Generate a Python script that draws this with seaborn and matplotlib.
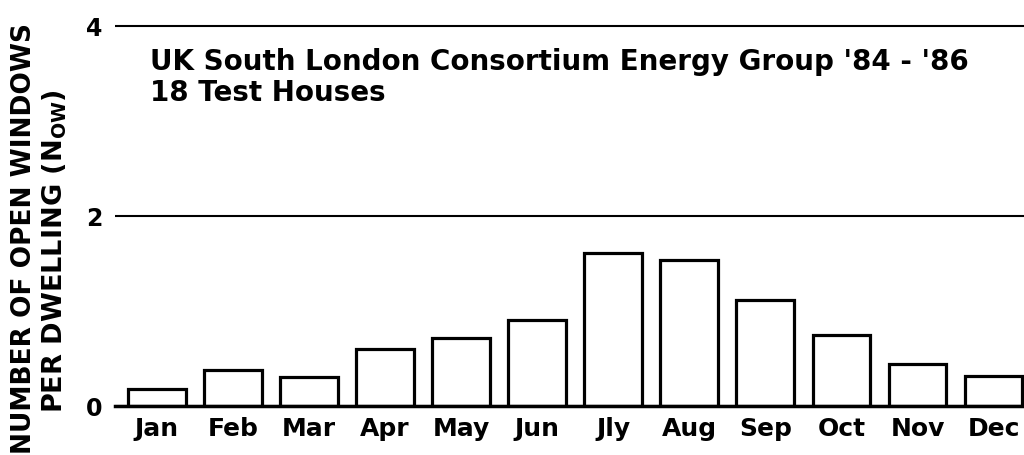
import matplotlib
matplotlib.use("Agg")
import matplotlib.pyplot as plt
import seaborn as sns
import pandas as pd

# monthly mean number of open windows per dwelling
months = ["Jan", "Feb", "Mar", "Apr", "May", "Jun",
          "Jly", "Aug", "Sep", "Oct", "Nov", "Dec"]
open_windows = [0.18, 0.38, 0.30, 0.60, 0.72, 0.90,
                1.61, 1.54, 1.12, 0.75, 0.44, 0.32]
y_ticks = [0, 2, 4]

title_lines = ["UK South London Consortium Energy Group '84 - '86",
               "18 Test Houses"]

sns.set_style("white")
plt.rcParams["font.family"] = ["DejaVu Sans"]
plt.rcParams["font.weight"] = "bold"
plt.rcParams["mathtext.default"] = "bf"
for key in ["text.color", "axes.labelcolor", "xtick.color", "ytick.color"]:
    plt.rcParams[key] = "black"

df = pd.DataFrame({"month": months, "n_ow": open_windows})

fig = plt.figure(figsize=(10.24, 4.56), dpi=100)
ax = fig.add_axes([0.1123, 0.1075, 0.8877, 0.8443])

sns.barplot(data=df, x="month", y="n_ow", color="white", edgecolor="black",
            linewidth=2.3, width=0.76, saturation=1, ax=ax)

ax.set_xlim(-0.55, 11.40)
ax.set_ylim(0, 4.05)
ax.set_yticks(y_ticks)
ax.set_yticklabels([str(t) for t in y_ticks])
ax.grid(axis="y", color="black", linewidth=1.5)
ax.set_axisbelow(True)

for side in ["left", "right", "top"]:
    ax.spines[side].set_visible(False)
ax.spines["bottom"].set_linewidth(2.5)
ax.spines["bottom"].set_color("black")

ax.tick_params(axis="x", length=0, pad=7, labelsize=18)
ax.tick_params(axis="y", length=0, pad=9, labelsize=17)
ax.set_xlabel("")
ax.set_ylabel("")

ax.text(0.0385, 0.875, title_lines[0], transform=ax.transAxes,
        fontsize=20, fontweight="bold", va="baseline", ha="left")
ax.text(0.0385, 0.795, title_lines[1], transform=ax.transAxes,
        fontsize=20, fontweight="bold", va="baseline", ha="left")

fig.text(0.023, 0.478, "NUMBER OF OPEN WINDOWS", rotation=90,
         fontsize=19, fontweight="bold", ha="center", va="center")
fig.text(0.053, 0.45, r"PER DWELLING (N$_{OW}$)", rotation=90,
         fontsize=19.5, fontweight="bold", ha="center", va="center")

fig.savefig("out.png", dpi=100)
